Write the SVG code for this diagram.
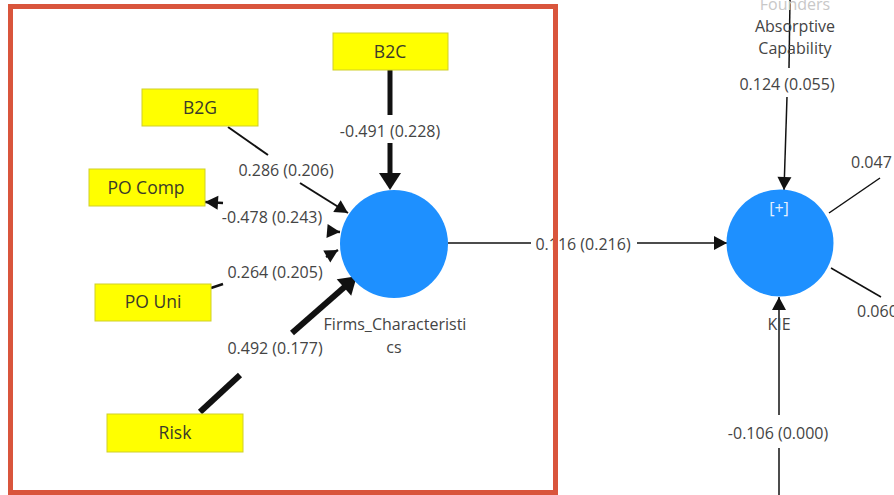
<svg xmlns="http://www.w3.org/2000/svg" width="894" height="495" viewBox="0 0 894 495">
<style>
  .box { fill: #ffff00; stroke: #cfcf2a; stroke-width: 1; }
  .btxt { font-family: "Open Sans", "Noto Sans", sans-serif; font-size: 17.5px; fill: #3a3a2a; text-anchor: middle; }
  .lbl { font-family: "Open Sans", "Noto Sans", sans-serif; font-size: 16px; fill: #444; text-anchor: middle; }
  .lbl.start { text-anchor: start; }
  .lv { fill: #1e90ff; }
  .c { stroke: #111; fill: none; stroke-linecap: butt; }
</style>
<defs>
  <marker id="ah" markerUnits="userSpaceOnUse" markerWidth="16" markerHeight="16" refX="13" refY="7" orient="auto" overflow="visible">
    <path d="M0,0 L13,7 L0,14 z" fill="#111"/>
  </marker>
  <marker id="ahL" markerUnits="userSpaceOnUse" markerWidth="24" markerHeight="24" refX="6" refY="11" orient="auto" overflow="visible">
    <path d="M0,0 L17,11 L0,22 z" fill="#111"/>
  </marker>
</defs>
<rect width="894" height="495" fill="#ffffff"/>

<g id="connectors">
  <!-- B2C -> Firms -->
  <line class="c" x1="390" y1="70" x2="390" y2="115" stroke-width="5"/>
  <line class="c" x1="390" y1="143" x2="390" y2="179" stroke-width="5" marker-end="url(#ahL)"/>
  <!-- B2G -> Firms -->
  <line class="c" x1="228" y1="127" x2="268" y2="155" stroke-width="2"/>
  <line class="c" x1="300" y1="183" x2="348" y2="213" stroke-width="2" marker-end="url(#ah)"/>
  <!-- PO Comp -> Firms -->
  <line class="c" x1="223" y1="203" x2="205" y2="202" stroke-width="2.5" marker-end="url(#ah)"/>
  <line class="c" x1="328" y1="231" x2="340" y2="232" stroke-width="2.5" marker-end="url(#ah)"/>
  <!-- PO Uni -> Firms -->
  <line class="c" x1="211" y1="288" x2="223" y2="284" stroke-width="2.5"/>
  <line class="c" x1="326" y1="257" x2="338" y2="250" stroke-width="2.5" marker-end="url(#ah)"/>
  <!-- Risk -> Firms -->
  <line class="c" x1="200" y1="412" x2="240" y2="375" stroke-width="6"/>
  <line class="c" x1="292" y1="333" x2="348.5" y2="283.6" stroke-width="6" marker-end="url(#ahL)"/>
  <!-- Firms -> KIE -->
  <line class="c" x1="448" y1="243" x2="531" y2="243" stroke-width="1.5"/>
  <line class="c" x1="637" y1="243" x2="727" y2="243" stroke-width="1.5" marker-end="url(#ah)"/>
  <!-- Founders Absorptive Capability -> KIE -->
  <line class="c" x1="790" y1="0" x2="789" y2="68" stroke-width="1.5"/>
  <line class="c" x1="787" y1="97" x2="784" y2="190" stroke-width="1.5" marker-end="url(#ah)"/>
  <!-- bottom -> KIE -->
  <line class="c" x1="779" y1="495" x2="779" y2="448" stroke-width="1.5"/>
  <line class="c" x1="779" y1="415" x2="779" y2="297" stroke-width="1.5" marker-end="url(#ah)"/>
  <!-- right side -->
  <line class="c" x1="829" y1="213" x2="880" y2="178" stroke-width="1.5"/>
  <line class="c" x1="831" y1="268" x2="881" y2="297" stroke-width="1.5"/>

  <text class="lbl" x="390" y="137">-0.491 (0.228)</text>
  <text class="lbl" x="286" y="176">0.286 (0.206)</text>
  <text class="lbl" x="272" y="223">-0.478 (0.243)</text>
  <text class="lbl" x="275" y="278">0.264 (0.205)</text>
  <text class="lbl" x="275" y="354">0.492 (0.177)</text>
  <text class="lbl" x="583" y="250">0.116 (0.216)</text>
  <text class="lbl" x="787" y="90">0.124 (0.055)</text>
  <text class="lbl" x="778" y="439">-0.106 (0.000)</text>
  <text class="lbl start" x="851" y="168">0.047</text>
  <text class="lbl start" x="857" y="317">0.060</text>
</g>

<g id="node-b2c">
  <rect class="box" x="333" y="33" width="115" height="37"/>
  <text class="btxt" x="390" y="58">B2C</text>
</g>
<g id="node-b2g">
  <rect class="box" x="142" y="89" width="116" height="37"/>
  <text class="btxt" x="200" y="114">B2G</text>
</g>
<g id="node-pocomp">
  <rect class="box" x="89" y="169" width="116" height="37"/>
  <text class="btxt" x="146" y="194">PO Comp</text>
</g>
<g id="node-pouni">
  <rect class="box" x="95" y="284" width="116" height="37"/>
  <text class="btxt" x="153" y="308">PO Uni</text>
</g>
<g id="node-risk">
  <rect class="box" x="107" y="414" width="136" height="38"/>
  <text class="btxt" x="175" y="439">Risk</text>
</g>
<g id="node-firms">
  <circle class="lv" cx="394" cy="244" r="54"/>
  <text class="lbl" x="395" y="330">Firms_Characteristi</text>
  <text class="lbl" x="394" y="353">cs</text>
</g>
<g id="node-kie">
  <circle class="lv" cx="780" cy="243" r="53.5"/>
  <text class="lbl" x="779" y="214" style="fill:#e6f0ff">[+]</text>
  <text class="lbl" x="779" y="330">KIE</text>
</g>
<g id="node-founders">
  <text class="lbl" x="795" y="10" style="fill:#c8c8c8">Founders</text>
  <text class="lbl" x="795" y="32">Absorptive</text>
  <text class="lbl" x="795" y="54">Capability</text>
</g>

<rect x="10.5" y="6.5" width="545" height="486" fill="none" stroke="#d9553c" stroke-width="5"/>
</svg>
